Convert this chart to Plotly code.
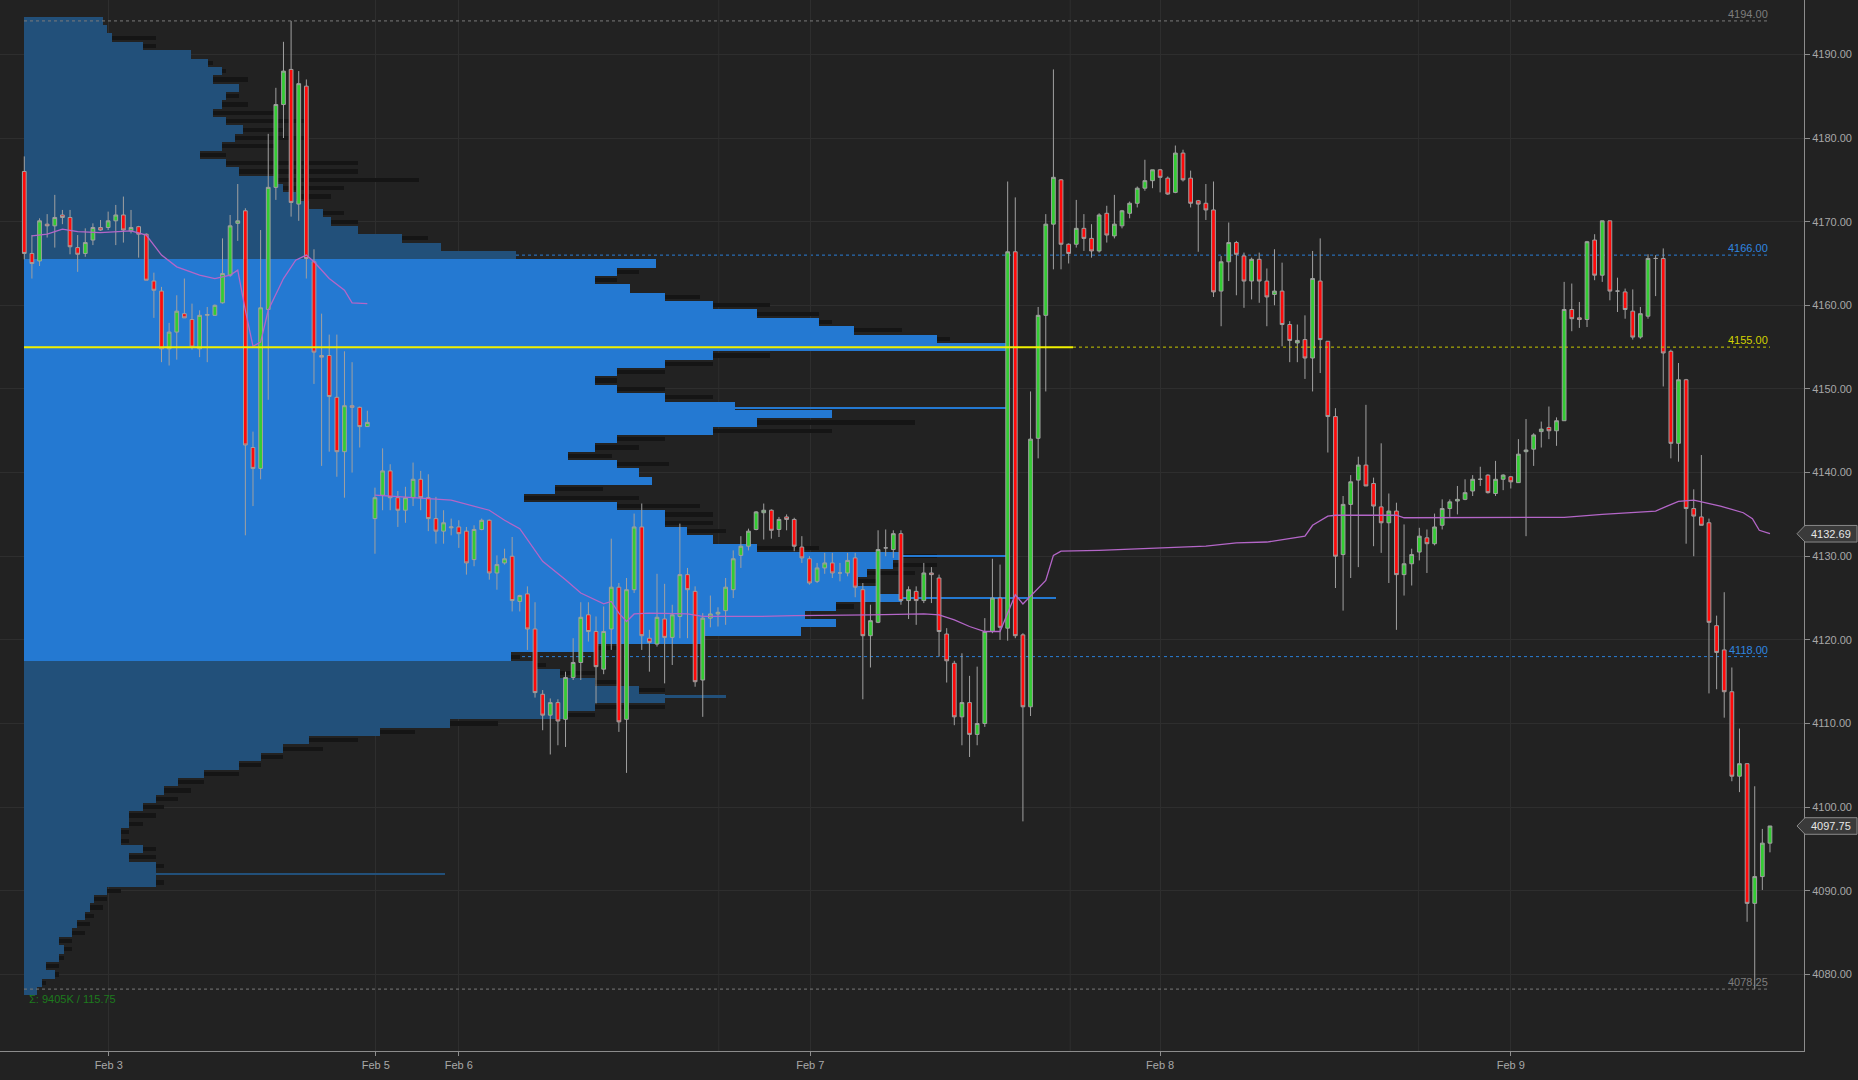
import plotly.graph_objects as go

# ---------------- candles (30-minute bars, index 0..229) ----------------
opens = [
    4176.0, 4166.2, 4165.3, 4169.7, 4169.5, 4170.8, 4170.5, 4166.9, 4166.2, 4167.8,
    4169.3, 4169.3, 4170.1, 4170.8, 4168.9, 4169.4, 4168.5, 4162.9, 4161.7, 4154.8,
    4156.8, 4159.0, 4158.3, 4154.8, 4158.8, 4158.8, 4160.3, 4163.6, 4169.8, 4171.3,
    4143.0, 4140.5, 4159.5, 4174.1, 4184.0, 4188.2, 4172.1, 4186.2, 4165.2, 4154.0,
    4154.0, 4149.0, 4142.5, 4148.0, 4147.8, 4145.5, 4134.5, 4137.3, 4140.2, 4137.0,
    4135.5, 4137.0, 4139.2, 4137.0, 4134.5, 4133.0, 4133.4, 4133.5, 4133.0, 4129.6,
    4133.2, 4134.3, 4128.0, 4129.2, 4130.0, 4124.6, 4125.5, 4121.3, 4113.5, 4111.0,
    4112.5, 4110.5, 4115.5, 4117.3, 4123.0, 4121.0, 4116.5, 4121.3, 4126.3, 4110.5,
    4126.0, 4133.5, 4120.2, 4119.5, 4122.5, 4120.3, 4122.8, 4127.8, 4125.8, 4115.2,
    4122.6, 4123.1, 4123.5, 4126.0, 4130.1, 4131.2, 4133.2, 4135.2, 4135.5, 4133.2,
    4134.7, 4134.4, 4131.1, 4129.7, 4127.0, 4128.6, 4129.2, 4128.0, 4128.0, 4129.8,
    4126.0, 4120.5, 4122.1, 4131.0, 4130.8, 4132.7, 4124.7, 4125.8, 4124.7, 4128.0,
    4127.4, 4120.7, 4117.2, 4110.8, 4112.5, 4108.7, 4110.0, 4121.0, 4125.0, 4121.4,
    4166.4, 4120.6, 4112.0, 4144.1, 4158.8, 4169.7, 4175.0, 4167.3, 4167.3, 4169.2,
    4168.0, 4166.5, 4171.0, 4168.3, 4169.5, 4171.0, 4172.2, 4174.0, 4174.9, 4176.2,
    4175.2, 4173.5, 4178.2, 4175.2, 4172.5, 4172.2, 4171.4, 4161.7, 4165.2, 4167.5,
    4165.9, 4162.9, 4165.5, 4162.9, 4161.3, 4161.7, 4157.7, 4155.5, 4155.9, 4153.7,
    4162.9, 4155.7, 4146.7, 4130.2, 4136.2, 4139.1, 4140.9, 4138.7, 4135.9, 4134.0,
    4135.4, 4127.8, 4129.1, 4130.5, 4132.2, 4131.5, 4133.7, 4135.7, 4136.6, 4136.8,
    4137.8, 4139.2, 4139.7, 4137.5, 4139.2, 4139.5, 4138.8, 4142.5, 4142.8, 4144.9,
    4145.4, 4145.0, 4146.2, 4159.5, 4158.5, 4158.3, 4167.8, 4163.6, 4170.1, 4161.7,
    4161.6, 4159.3, 4156.2, 4158.7, 4165.6, 4165.6, 4154.5, 4143.5, 4151.1, 4135.7,
    4134.7, 4134.0, 4121.7, 4118.8, 4113.8, 4103.7, 4105.2, 4088.5, 4091.7, 4095.7,
]
highs = [
    4177.8, 4168.4, 4170.4, 4170.9, 4173.2, 4171.4, 4171.4, 4168.4, 4169.2, 4169.8,
    4170.2, 4171.2, 4172.0, 4173.0, 4171.4, 4169.5, 4168.6, 4163.9, 4162.2, 4157.9,
    4161.2, 4163.2, 4160.2, 4159.4, 4159.8, 4160.1, 4168.0, 4170.8, 4174.5, 4171.6,
    4144.9, 4169.0, 4180.5, 4186.0, 4191.5, 4194.0, 4188.0, 4187.0, 4166.7, 4159.0,
    4156.5, 4156.5, 4154.5, 4153.2, 4147.9, 4147.4, 4138.2, 4142.9, 4141.0, 4137.8,
    4138.3, 4141.2, 4140.2, 4139.8, 4137.1, 4135.5, 4134.5, 4134.3, 4133.5, 4133.7,
    4134.5, 4134.4, 4130.1, 4130.9, 4132.3, 4125.4, 4126.4, 4124.5, 4114.0, 4113.0,
    4112.9, 4116.2, 4120.2, 4124.5, 4124.5, 4122.8, 4124.0, 4132.1, 4126.8, 4127.4,
    4135.1, 4136.3, 4121.2, 4127.9, 4126.7, 4124.2, 4133.9, 4128.6, 4126.4, 4123.2,
    4125.3, 4123.9, 4127.4, 4130.7, 4132.4, 4133.3, 4135.4, 4136.3, 4135.6, 4134.7,
    4135.0, 4134.6, 4132.4, 4130.0, 4129.2, 4130.4, 4130.4, 4129.2, 4130.4, 4130.4,
    4126.8, 4124.2, 4133.1, 4133.2, 4133.1, 4133.1, 4126.4, 4126.4, 4129.2, 4128.7,
    4127.8, 4121.4, 4117.5, 4118.4, 4115.7, 4116.8, 4122.6, 4129.7, 4129.0, 4174.8,
    4172.9, 4120.8, 4149.7, 4159.8, 4170.9, 4188.2, 4175.1, 4167.4, 4172.6, 4170.9,
    4169.7, 4171.0, 4171.9, 4173.2, 4171.4, 4172.4, 4174.2, 4177.4, 4176.2, 4176.3,
    4175.4, 4179.1, 4178.6, 4176.1, 4172.6, 4174.5, 4174.8, 4165.9, 4169.9, 4167.7,
    4166.3, 4165.7, 4166.3, 4164.4, 4166.7, 4165.1, 4158.1, 4157.7, 4158.8, 4166.5,
    4168.0, 4155.7, 4147.7, 4137.2, 4139.7, 4141.9, 4148.1, 4139.4, 4143.5, 4137.5,
    4136.4, 4133.8, 4130.9, 4133.4, 4133.2, 4135.1, 4136.8, 4136.8, 4138.4, 4139.2,
    4139.7, 4140.7, 4139.8, 4141.4, 4139.8, 4139.6, 4144.0, 4146.4, 4144.7, 4146.1,
    4147.9, 4146.6, 4162.8, 4162.6, 4160.4, 4167.7, 4168.5, 4170.1, 4170.1, 4163.3,
    4162.0, 4161.9, 4159.8, 4166.1, 4166.0, 4166.8, 4154.7, 4153.1, 4151.2, 4138.0,
    4142.1, 4134.5, 4122.9, 4125.7, 4116.7, 4109.4, 4105.2, 4102.5, 4097.4, 4097.75,
]
lows = [
    4165.5, 4163.2, 4164.7, 4168.1, 4166.9, 4169.7, 4166.1, 4164.0, 4165.8, 4167.2,
    4168.9, 4169.0, 4167.2, 4167.5, 4168.6, 4165.7, 4163.0, 4158.5, 4153.2, 4152.8,
    4153.5, 4158.5, 4154.7, 4153.8, 4153.2, 4158.8, 4160.2, 4163.4, 4167.7, 4132.5,
    4136.0, 4139.2, 4148.7, 4172.6, 4180.0, 4170.6, 4170.1, 4163.2, 4150.6, 4140.8,
    4142.5, 4139.5, 4137.0, 4140.0, 4143.0, 4145.5, 4130.3, 4135.5, 4135.5, 4133.5,
    4134.0, 4136.0, 4135.5, 4133.0, 4131.5, 4131.5, 4132.5, 4131.0, 4127.8, 4128.8,
    4133.1, 4127.2, 4126.0, 4129.0, 4123.4, 4123.4, 4118.8, 4113.1, 4109.2, 4106.3,
    4107.4, 4107.2, 4115.2, 4115.2, 4119.8, 4112.4, 4115.9, 4118.8, 4109.0, 4104.1,
    4125.6, 4118.8, 4116.2, 4119.2, 4114.8, 4117.0, 4120.2, 4120.2, 4114.4, 4110.8,
    4121.5, 4121.6, 4121.8, 4125.0, 4128.6, 4130.7, 4133.1, 4132.0, 4132.1, 4132.3,
    4133.1, 4130.6, 4129.2, 4126.6, 4126.8, 4127.9, 4127.4, 4127.0, 4127.6, 4125.1,
    4112.9, 4116.7, 4122.0, 4130.0, 4129.8, 4124.2, 4122.5, 4121.8, 4124.4, 4124.4,
    4118.0, 4114.9, 4109.8, 4107.4, 4106.0, 4107.4, 4109.6, 4120.8, 4120.0, 4119.9,
    4120.2, 4098.3, 4110.9, 4141.7, 4149.7, 4164.3, 4164.3, 4165.0, 4166.9, 4166.5,
    4165.7, 4166.3, 4167.5, 4168.0, 4169.2, 4170.4, 4171.7, 4173.7, 4174.0, 4173.5,
    4173.2, 4173.4, 4174.8, 4171.7, 4166.4, 4170.2, 4161.0, 4157.5, 4162.9, 4161.2,
    4159.7, 4160.7, 4160.3, 4157.5, 4160.0, 4155.1, 4153.2, 4153.2, 4151.2, 4149.7,
    4151.9, 4142.4, 4126.2, 4123.5, 4127.4, 4128.7, 4138.4, 4131.2, 4130.4, 4126.8,
    4121.2, 4125.3, 4126.5, 4129.5, 4128.0, 4131.3, 4133.2, 4134.7, 4135.0, 4136.7,
    4137.2, 4138.4, 4137.5, 4137.2, 4137.9, 4138.1, 4138.8, 4132.4, 4140.8, 4143.0,
    4144.0, 4143.2, 4146.2, 4156.9, 4157.3, 4157.4, 4163.0, 4162.8, 4160.6, 4159.2,
    4158.4, 4155.9, 4156.0, 4158.4, 4161.1, 4150.3, 4141.7, 4141.3, 4131.5, 4130.0,
    4133.7, 4113.6, 4114.1, 4110.7, 4103.1, 4101.8, 4086.3, 4078.25, 4090.1, 4094.6,
]
closes = [
    4166.2, 4165.0, 4170.1, 4169.5, 4170.5, 4170.5, 4167.0, 4166.1, 4167.5, 4169.3,
    4169.0, 4170.1, 4170.8, 4169.0, 4169.3, 4168.5, 4163.0, 4161.8, 4154.8, 4156.8,
    4159.3, 4158.5, 4155.0, 4158.8, 4158.9, 4160.0, 4163.8, 4169.5, 4170.1, 4143.3,
    4140.5, 4159.7, 4174.1, 4184.0, 4188.0, 4172.3, 4186.5, 4165.6, 4154.4, 4153.8,
    4149.1, 4142.5, 4148.0, 4147.8, 4145.5, 4146.0, 4137.0, 4140.2, 4137.0, 4135.5,
    4137.0, 4139.2, 4137.0, 4134.5, 4133.0, 4134.0, 4133.5, 4132.7, 4129.2, 4133.2,
    4134.3, 4128.0, 4129.0, 4129.7, 4124.7, 4125.3, 4121.3, 4113.7, 4111.0, 4112.5,
    4110.3, 4115.5, 4117.3, 4122.7, 4121.0, 4116.8, 4121.0, 4126.3, 4110.2, 4126.0,
    4133.5, 4120.5, 4119.7, 4122.7, 4120.3, 4123.0, 4127.8, 4126.0, 4115.0, 4122.6,
    4123.1, 4123.3, 4126.3, 4129.7, 4131.2, 4133.0, 4135.3, 4135.5, 4133.1, 4134.4,
    4134.4, 4131.2, 4129.8, 4126.8, 4128.6, 4129.2, 4128.0, 4128.0, 4129.5, 4126.3,
    4120.5, 4122.3, 4130.8, 4131.0, 4132.7, 4124.7, 4126.0, 4124.7, 4128.0, 4127.8,
    4121.0, 4117.5, 4110.8, 4112.5, 4108.7, 4110.0, 4121.0, 4125.0, 4121.5, 4166.4,
    4120.5, 4112.0, 4144.0, 4158.8, 4169.7, 4175.3, 4167.3, 4166.2, 4169.2, 4168.0,
    4166.5, 4170.8, 4168.4, 4169.7, 4171.3, 4172.2, 4174.0, 4174.9, 4176.2, 4175.3,
    4173.3, 4178.2, 4175.0, 4172.2, 4172.1, 4171.4, 4161.6, 4165.2, 4167.5, 4166.1,
    4162.9, 4165.5, 4162.9, 4161.0, 4161.7, 4157.7, 4155.8, 4155.8, 4153.7, 4163.2,
    4155.9, 4146.7, 4130.0, 4136.2, 4138.9, 4140.9, 4138.4, 4136.0, 4134.0, 4135.4,
    4127.8, 4129.1, 4130.2, 4132.4, 4131.5, 4133.5, 4135.7, 4136.5, 4136.8, 4137.6,
    4139.2, 4139.2, 4137.6, 4139.2, 4139.7, 4138.9, 4142.2, 4142.7, 4144.5, 4145.2,
    4145.0, 4146.2, 4159.5, 4158.4, 4158.3, 4167.6, 4163.6, 4170.1, 4161.7, 4161.7,
    4159.5, 4156.2, 4159.0, 4165.6, 4165.6, 4154.3, 4143.5, 4151.1, 4135.7, 4134.8,
    4133.7, 4122.1, 4118.5, 4113.8, 4103.7, 4105.2, 4088.5, 4091.7, 4095.7, 4097.75,
]
bar_index = list(range(len(opens)))

# ---------------- session VWAP lines (read at selected bars) ----------------
vwap1_idx = [1, 3, 5, 7, 10, 14, 16, 18, 20, 23, 25, 27, 28, 29, 30, 31, 32, 34,
             35.6, 37, 38, 40, 42, 43, 45]
vwap1_val = [4168.3, 4168.5, 4169.1, 4168.8, 4168.7, 4168.9, 4168.4, 4166.0, 4164.6,
             4163.6, 4163.2, 4163.6, 4164.2, 4159.4, 4155.1, 4155.6, 4159.4, 4163.2,
             4165.4, 4166.0, 4165.2, 4163.2, 4161.8, 4160.3, 4160.2]
vwap2_idx = [46, 49, 53, 56, 61, 63, 65, 68, 71, 73, 76, 77, 78, 79, 80, 82, 87, 89,
             96, 101, 111, 118, 120, 122, 124, 126, 128, 129, 130, 131, 132, 134, 135,
             136, 141, 146, 150, 155, 159, 163, 168, 169, 171, 172, 176, 180, 181, 183,
             202, 207, 214, 215.5, 217, 219, 222.5, 225.5, 226.7, 227.6, 229]
vwap2_val = [4137.3, 4137.1, 4136.9, 4136.7, 4135.5, 4134.3, 4133.3, 4129.4, 4127.2,
             4125.6, 4124.3, 4124.6, 4123.2, 4122.2, 4123.1, 4123.2, 4123.1, 4122.8,
             4122.8, 4122.9, 4123.0, 4123.1, 4123.0, 4122.4, 4121.6, 4121.0, 4121.0,
             4123.2, 4125.4, 4124.3, 4125.2, 4127.1, 4130.1, 4130.6, 4130.7, 4130.9,
             4131.0, 4131.2, 4131.6, 4131.7, 4132.4, 4133.7, 4134.8, 4134.9, 4134.9,
             4134.9, 4134.6, 4134.6, 4134.65, 4135.0, 4135.4, 4136.0, 4136.55, 4136.7,
             4136.0, 4135.2, 4134.5, 4133.1, 4132.7]

# ---------------- volume profile (K contracts per 1-point row) ----------------
profile_levels = list(range(4194, 4077, -1))
profile_vol = [
    18, 19, 20, 27, 38, 42, 45, 43, 49, 46,
    45, 43, 46, 50, 48, 45, 40, 46, 49, 57,
    59, 62, 65, 68, 70, 76, 86, 95, 112, 144,
    135, 130, 138, 146, 157, 167, 181, 189, 208, 224,
    157, 146, 135, 130, 135, 146, 162, 184, 167, 157,
    135, 130, 124, 135, 140, 143, 121, 114, 135, 146,
    146, 151, 157, 167, 200, 198, 192, 190, 195, 200,
    185, 178, 185, 177, 155, 130, 111, 116, 122, 130,
    140, 146, 130, 124, 97, 81, 65, 59, 54, 49,
    41, 35, 32, 30, 27, 24, 24, 22, 22, 27,
    24, 30, 30, 30, 19, 16, 15, 14, 12, 11,
    8, 9, 8, 5, 7, 4, 3,
]
profile_shadow = [
    0, 0, 30, 30, 0, 43, 46, 51, 0, 49,
    51, 57, 65, 59, 65, 57, 46, 76, 76, 90,
    73, 70, 65, 73, 76, 76, 92, 95, 0, 0,
    140, 135, 0, 154, 170, 181, 184, 200, 211, 0,
    170, 157, 146, 135, 146, 157, 0, 0, 203, 184,
    146, 140, 134, 147, 0, 0, 132, 140, 154, 157,
    157, 160, 0, 181, 208, 208, 203, 194, 0, 0,
    189, 0, 0, 157, 151, 135, 113, 119, 130, 135,
    146, 0, 146, 130, 108, 89, 76, 68, 59, 54,
    49, 41, 38, 35, 32, 30, 27, 24, 24, 30,
    30, 32, 0, 32, 22, 19, 18, 16, 15, 14,
    11, 11, 9, 8, 8, 5, 0,
]
spike_levels = [4147.75, 4130.0, 4125.0, 4113.25, 4092.0]
spike_vol = [224, 224, 235, 160, 96]

value_area_high, poc, value_area_low = 4166.0, 4155.0, 4118.0
range_high, range_low = 4194.0, 4078.25
last_price, vwap_last = 4097.75, 4132.69
volume_text = "Σ: 9405K / 115.75"

y_ticks = [4080, 4090, 4100, 4110, 4120, 4130, 4140, 4150, 4160, 4170, 4180, 4190]
date_ticks = [11.07, 46.1, 57.0, 103.1, 149.0, 195.0]
date_labels = ["Feb 3", "Feb 5", "Feb 6", "Feb 7", "Feb 8", "Feb 9"]
midday_grid = [91.1, 137.2, 182.9]

# ---------------- styling / geometry ----------------
W, H = 1858, 1080
ML, MR, MT, MB = 0, 54, 0, 29
PW = W - ML - MR
Y_RANGE = [4070.85, 4196.5]
BG = "#222222"
BRIGHT, DARK, SHADOW = "#2479d2", "#22507a", "#151515"
GRID = "#2e2e2e"
AX = "#8c8c8c"
FONT = "Liberation Sans"

def px(xpix):
    return (xpix - ML) / PW

def ypaper(v):
    return (v - Y_RANGE[0]) / (Y_RANGE[1] - Y_RANGE[0])

def zone_color(level):
    return BRIGHT if value_area_low <= level < value_area_high else DARK

fig = go.Figure()

# profile (drawn on base x axis so candles sit above it)
fig.add_trace(go.Bar(orientation="h", y=profile_levels, x=profile_shadow, width=0.5,
                     marker=dict(color=SHADOW, line=dict(width=0)), xaxis="x", yaxis="y",
                     hoverinfo="skip"))
fig.add_trace(go.Bar(orientation="h", y=profile_levels, x=profile_vol, width=1.0,
                     marker=dict(color=[zone_color(l) for l in profile_levels], line=dict(width=0)),
                     xaxis="x", yaxis="y", hoverinfo="skip"))
fig.add_trace(go.Bar(orientation="h", y=spike_levels, x=spike_vol, width=0.3,
                     marker=dict(color=[zone_color(l) for l in spike_levels], line=dict(width=0)),
                     xaxis="x", yaxis="y", hoverinfo="skip"))

fig.add_trace(go.Candlestick(
    x=bar_index, open=opens, high=highs, low=lows, close=closes,
    xaxis="x2", yaxis="y", whiskerwidth=0,
    increasing=dict(line=dict(color="#a0a0a0", width=1), fillcolor="#33cc33"),
    decreasing=dict(line=dict(color="#a0a0a0", width=1), fillcolor="#ff0a0a"),
    hoverinfo="skip"))

vx = vwap1_idx + [None] + vwap2_idx
vy = vwap1_val + [None] + vwap2_val
fig.add_trace(go.Scatter(x=vx, y=vy, mode="lines", xaxis="x2", yaxis="y",
                         line=dict(color="#b466c8", width=1.3), hoverinfo="skip",
                         connectgaps=False))

K = 0.2278  # volume units per pixel
X0 = 24
shapes = []
line_x0, line_x1 = px(24), px(1770)
# level lines
for lvl, col, layer in [(range_high, "#7a7a7a", "above"), (value_area_high, "#2a7fd8", "below"),
                        (value_area_low, "#2a7fd8", "below"), (range_low, "#7a7a7a", "above")]:
    shapes.append(dict(type="line", xref="paper", yref="y", x0=line_x0, x1=line_x1, y0=lvl, y1=lvl,
                       line=dict(color=col, width=1, dash="dot"), layer=layer))
shapes.append(dict(type="line", xref="paper", yref="y", x0=line_x0, x1=px(1073), y0=poc, y1=poc,
                   line=dict(color="#f0f000", width=2), layer="above"))
shapes.append(dict(type="line", xref="paper", yref="y", x0=px(1073), x1=line_x1, y0=poc, y1=poc,
                   line=dict(color="#c8c800", width=1, dash="dot"), layer="above"))
for g in midday_grid:
    shapes.append(dict(type="line", xref="x2", yref="paper", x0=g, x1=g, y0=0, y1=1,
                       line=dict(color=GRID, width=1), layer="below"))
# price flags on the right axis
for v in [vwap_last, last_price]:
    yc = ypaper(v)
    h = 8.3 / (H - MT - MB)
    xt, xb, xr = px(1797), px(1805), px(1857)
    shapes.append(dict(type="path", xref="paper", yref="paper",
                       path=f"M {xt},{yc} L {xb},{yc+h} L {xr},{yc+h} L {xr},{yc-h} L {xb},{yc-h} Z",
                       fillcolor="#3a3a3a", line=dict(color="#8a8a8a", width=1), layer="above"))

annotations = []
for lvl, col in [(range_high, "#7d7d7d"), (value_area_high, "#2f86e0"), (poc, "#d2d200"),
                 (value_area_low, "#2f86e0"), (range_low, "#7d7d7d")]:
    annotations.append(dict(xref="paper", yref="y", x=line_x1, y=lvl, text=f"{lvl:.2f}",
                            xanchor="right", yanchor="bottom", showarrow=False, yshift=-1,
                            font=dict(family=FONT, size=11, color=col)))
for v in [vwap_last, last_price]:
    annotations.append(dict(xref="paper", yref="y", x=px(1831), y=v, text=f"{v:.2f}",
                            xanchor="center", yanchor="middle", showarrow=False,
                            font=dict(family=FONT, size=11, color="#e6e6e6")))
annotations.append(dict(xref="paper", yref="y", x=px(27), y=range_low, text=volume_text,
                        xanchor="left", yanchor="top", yshift=-2, showarrow=False,
                        font=dict(family=FONT, size=11, color="#1d7a1d")))

fig.update_layout(
    width=W, height=H, paper_bgcolor=BG, plot_bgcolor=BG,
    margin=dict(l=ML, r=MR, t=MT, b=MB), showlegend=False,
    barmode="overlay", bargap=0,
    xaxis=dict(range=[-X0 * K, (PW - X0) * K], visible=False, fixedrange=True),
    xaxis2=dict(overlaying="x", side="bottom", anchor="y",
                range=[(ML - 24.3) / 7.623, (ML + PW - 24.3) / 7.623],
                tickvals=date_ticks, ticktext=date_labels,
                showgrid=True, gridcolor=GRID, gridwidth=1,
                showline=True, linecolor=AX, linewidth=1,
                ticks="outside", ticklen=4, tickcolor=AX,
                tickfont=dict(family=FONT, size=11, color="#a8a8a8"),
                rangeslider=dict(visible=False), zeroline=False),
    yaxis=dict(side="right", range=Y_RANGE, tickvals=y_ticks,
               ticktext=[f"{t:.2f}" for t in y_ticks],
               showgrid=True, gridcolor=GRID, gridwidth=1, zeroline=False,
               showline=True, linecolor=AX, linewidth=1,
               ticks="outside", ticklen=5, tickcolor=AX,
               tickfont=dict(family=FONT, size=11, color="#a8a8a8")),
    shapes=shapes, annotations=annotations,
)

fig.write_html(
    "out.html",
    config={"displayModeBar": False},
    post_script="document.body.style.margin='0px';"
                "document.body.style.backgroundColor='#222222';"
                "document.body.style.overflow='hidden';",
)
